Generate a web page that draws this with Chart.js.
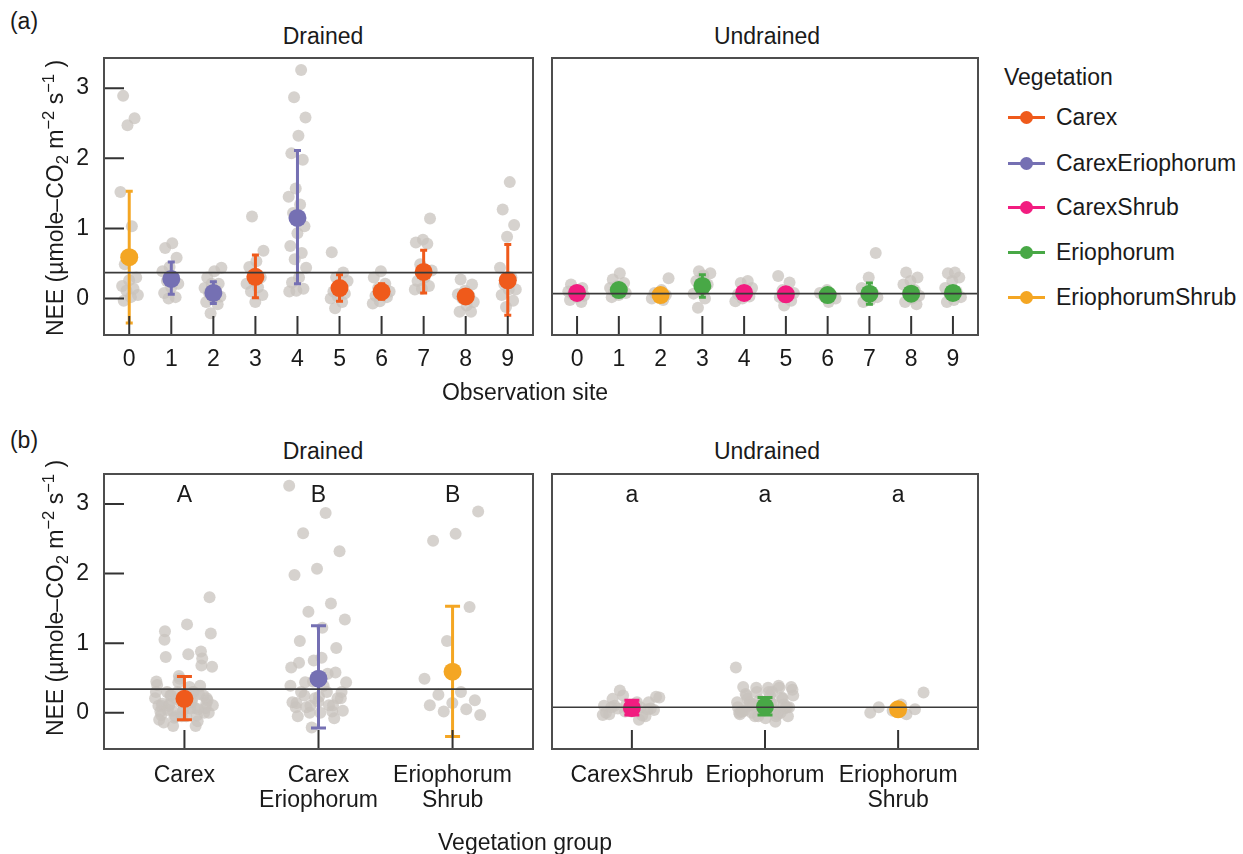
<!DOCTYPE html>
<html>
<head>
<meta charset="utf-8">
<script src="https://cdn.jsdelivr.net/npm/chart.js@4.4.1/dist/chart.umd.min.js"></script>
<style>
  html, body { margin: 0; padding: 0; background: #fff; }
  body { width: 1243px; height: 854px; position: relative; overflow: hidden;
         font-family: "Liberation Sans", Arial, sans-serif; color: #1a1a1a; }
  canvas { position: absolute; }
  .t { position: absolute; font-size: 23px; line-height: 1; white-space: nowrap; }
  .c { transform: translate(-50%, -50%); }
  .ytitle { position: absolute; font-size: 23px; line-height: 1; white-space: nowrap;
            transform: translate(-50%, -50%) rotate(-90deg); }
  .ytitle sub, .ytitle sup { font-size: 72%; line-height: 0; }
  .leg { position: absolute; left: 1008px; width: 220px; height: 30px; }
  .leg .ln { position: absolute; left: 0; top: 13.5px; width: 37px; height: 3px; }
  .leg .dt { position: absolute; left: 12px; top: 8.5px; width: 13px; height: 13px; border-radius: 50%; }
  .leg .lb { position: absolute; left: 48px; top: 4px; font-size: 23px; line-height: 1; white-space: nowrap; }
</style>
</head>
<body>
<canvas id="aDrained" width="542" height="336" style="left:0px;top:49px"></canvas>
<canvas id="aUndrained" width="444" height="336" style="left:543px;top:49px"></canvas>
<canvas id="bDrained" width="542" height="364" style="left:0px;top:465px"></canvas>
<canvas id="bUndrained" width="444" height="364" style="left:543px;top:465px"></canvas>

<div class="t c" style="left:24px;top:21px">(a)</div>
<div class="t c" style="left:24px;top:440px">(b)</div>

<div class="t c" style="left:323px;top:36px">Drained</div>
<div class="t c" style="left:767px;top:36px">Undrained</div>
<div class="t c" style="left:323px;top:451px">Drained</div>
<div class="t c" style="left:767px;top:451px">Undrained</div>

<div class="ytitle" style="left:55px;top:198px">NEE (µmole–CO<sub>2</sub> m<sup>−2</sup> s<sup>−1</sup> )</div>
<div class="ytitle" style="left:55px;top:598px">NEE (µmole–CO<sub>2</sub> m<sup>−2</sup> s<sup>−1</sup> )</div>

<div class="t c" style="left:525px;top:392px">Observation site</div>
<div class="t c" style="left:525px;top:842px">Vegetation group</div>

<div class="t" style="left:1004px;top:66px">Vegetation</div>
<div id="legend"></div>

<script>
// ---- vegetation classes and colours ----
const vegetation = ['Carex', 'CarexEriophorum', 'CarexShrub', 'Eriophorum', 'EriophorumShrub'];
const vegColors  = ['#EF5A1B', '#7570B3', '#F21C80', '#48A846', '#F4A623'];

// ---- observation sites ----
const sites = [0, 1, 2, 3, 4, 5, 6, 7, 8, 9];
const siteLabels = ['0', '1', '2', '3', '4', '5', '6', '7', '8', '9'];
const drainedSiteVeg = ['EriophorumShrub', 'CarexEriophorum', 'CarexEriophorum', 'Carex', 'CarexEriophorum',
                        'Carex', 'Carex', 'Carex', 'Carex', 'Carex'];
const undrainedSiteVeg = ['CarexShrub', 'Eriophorum', 'EriophorumShrub', 'Eriophorum', 'CarexShrub',
                          'CarexShrub', 'Eriophorum', 'Eriophorum', 'Eriophorum', 'Eriophorum'];

// ---- individual NEE measurements per site ----
const drainedNEE = [
  [2.89, 2.57, 2.47, 1.52, 1.03, 0.49, 0.30, 0.26, 0.18, 0.14, 0.11, 0.05, 0.02, -0.03],
  [0.79, 0.72, 0.58, 0.45, 0.39, 0.30, 0.25, 0.21, 0.16, 0.08, 0.02, 0.00],
  [0.44, 0.39, 0.30, 0.21, 0.21, 0.15, 0.11, 0.08, 0.03, 0.00, -0.05, -0.08, -0.21],
  [1.17, 0.68, 0.53, 0.45, 0.30, 0.25, 0.21, 0.16, 0.10, 0.05, -0.05],
  [3.26, 2.87, 2.58, 2.32, 2.07, 1.98, 1.57, 1.45, 1.34, 1.22, 1.03, 0.93, 0.75, 0.65, 0.56, 0.44, 0.30, 0.23, 0.14, 0.11, 0.10],
  [0.66, 0.37, 0.30, 0.25, 0.15, 0.10, 0.07, 0.03, 0.00, -0.05, -0.14],
  [0.39, 0.30, 0.21, 0.15, 0.10, 0.07, 0.04, 0.02, -0.04, -0.07],
  [1.14, 0.84, 0.80, 0.78, 0.49, 0.40, 0.30, 0.25, 0.18, 0.14, 0.13],
  [0.27, 0.20, 0.11, 0.06, 0.04, 0.00, -0.05, -0.10, -0.19, -0.19],
  [1.66, 1.27, 1.05, 0.88, 0.44, 0.30, 0.20, 0.13, 0.13, 0.05, -0.03, -0.12]
];
const undrainedNEE = [
  [0.20, 0.15, 0.12, 0.10, 0.08, 0.06, 0.04, 0.02, -0.02, -0.05],
  [0.36, 0.27, 0.22, 0.18, 0.15, 0.12, 0.10, 0.08, 0.05, 0.02],
  [0.29, 0.12, 0.08, 0.05, 0.03, 0.00, -0.02],
  [0.39, 0.36, 0.33, 0.25, 0.20, 0.12, 0.07, 0.00, -0.13],
  [0.25, 0.22, 0.15, 0.10, 0.06, 0.03, 0.00, -0.04],
  [0.32, 0.23, 0.12, 0.08, 0.05, 0.02, -0.03, -0.10],
  [0.12, 0.08, 0.05, 0.03, 0.00, -0.05],
  [0.65, 0.30, 0.15, 0.08, 0.05, 0.02, -0.02, -0.05],
  [0.37, 0.30, 0.25, 0.20, 0.12, 0.08, 0.04, 0.00, -0.05, -0.08],
  [0.37, 0.36, 0.30, 0.25, 0.15, 0.10, 0.06, 0.02, -0.02, -0.05]
];

// ---- site means with error-bar limits ----
const drainedSiteMean = [0.59, 0.28, 0.08, 0.31, 1.15, 0.15, 0.10, 0.38, 0.03, 0.26];
const drainedSiteLo   = [-0.35, 0.06, -0.07, 0.01, 0.21, -0.04, -0.01, 0.08, -0.05, -0.24];
const drainedSiteHi   = [1.53, 0.52, 0.24, 0.62, 2.11, 0.34, 0.21, 0.69, 0.11, 0.77];
const undrainedSiteMean = [0.08, 0.12, 0.05, 0.18, 0.08, 0.06, 0.05, 0.07, 0.07, 0.08];
const undrainedSiteLo   = [0.03, 0.07, 0.00, 0.02, 0.03, 0.01, 0.00, -0.08, 0.02, 0.03];
const undrainedSiteHi   = [0.13, 0.17, 0.10, 0.34, 0.13, 0.11, 0.10, 0.22, 0.12, 0.13];

// ---- vegetation groups ----
const drainedGroups = ['Carex', 'CarexEriophorum', 'EriophorumShrub'];
const undrainedGroups = ['CarexShrub', 'Eriophorum', 'EriophorumShrub'];
const drainedGroupLabels = [['Carex'], ['Carex', 'Eriophorum'], ['Eriophorum', 'Shrub']];
const undrainedGroupLabels = [['CarexShrub'], ['Eriophorum'], ['Eriophorum', 'Shrub']];
const drainedGroupMean = [0.20, 0.49, 0.59];
const drainedGroupLo   = [-0.10, -0.22, -0.34];
const drainedGroupHi   = [0.52, 1.25, 1.53];
const undrainedGroupMean = [0.07, 0.09, 0.05];
const undrainedGroupLo   = [-0.03, -0.03, 0.00];
const undrainedGroupHi   = [0.18, 0.22, 0.10];
const drainedLetters = ['A', 'B', 'B'];
const undrainedLetters = ['a', 'a', 'a'];

// ---- reference levels and y axis ----
const drainedRefA = 0.37, undrainedRefA = 0.07;
const drainedRefB = 0.34, undrainedRefB = 0.08;
const letterLevel = 3.12;
const yTicks = [0, 1, 2, 3];
const yMin = -0.52, yMax = 3.43;

// ---------------------------------------------------------------
const FONT = '"Liberation Sans", Arial, sans-serif';
const colorOf = v => vegColors[vegetation.indexOf(v)];

// spread points sideways around their category (deterministic sequence)
function spread(valuesPerCat, cats) {
  const pts = [];
  valuesPerCat.forEach((vals, c) => {
    vals.forEach((v, i) => {
      const f = ((i * 0.6180339887 + c * 0.3819660113 + 0.17) % 1);
      pts.push({ x: cats[c] + (f - 0.5) * 0.44, y: v });
    });
  });
  return pts;
}

function groupValues(groups, siteVeg, perSite) {
  return groups.map(g => perSite.filter((_, s) => siteVeg[s] === g).flat());
}

function makeDecor(p) {
  return {
    id: 'decor',
    beforeDatasetDraw(chart, args) {
      if (args.index !== 1) return;
      const { ctx, scales: { x, y } } = chart;
      ctx.save();
      ctx.lineWidth = 3;
      p.means.forEach((m, i) => {
        const px = x.getPixelForValue(p.cats[i]);
        const yl = y.getPixelForValue(p.lo[i]);
        const yh = y.getPixelForValue(p.hi[i]);
        ctx.strokeStyle = p.colors[i];
        ctx.beginPath();
        ctx.moveTo(px, yl); ctx.lineTo(px, yh);
        ctx.moveTo(px - p.cap, yl); ctx.lineTo(px + p.cap, yl);
        ctx.moveTo(px - p.cap, yh); ctx.lineTo(px + p.cap, yh);
        ctx.stroke();
      });
      ctx.restore();
    },
    afterDatasetsDraw(chart) {
      const { ctx, chartArea: a, scales: { x, y } } = chart;
      ctx.save();
      // reference level
      const ry = y.getPixelForValue(p.ref);
      ctx.strokeStyle = '#3a3a3a';
      ctx.lineWidth = 1.6;
      ctx.beginPath(); ctx.moveTo(a.left, ry); ctx.lineTo(a.right, ry); ctx.stroke();
      // inward tick marks
      ctx.strokeStyle = '#333';
      ctx.lineWidth = 2;
      ctx.beginPath();
      p.cats.forEach(c => {
        const px = x.getPixelForValue(c);
        ctx.moveTo(px, a.bottom); ctx.lineTo(px, a.bottom - 19);
      });
      if (p.showY) {
        yTicks.forEach(v => {
          const py = y.getPixelForValue(v);
          ctx.moveTo(a.left, py); ctx.lineTo(a.left + 20, py);
        });
      }
      ctx.stroke();
      // panel frame
      ctx.strokeStyle = '#4d4d4d';
      ctx.lineWidth = 2;
      ctx.strokeRect(a.left, a.top, a.right - a.left, a.bottom - a.top);
      // significance letters
      if (p.letters) {
        ctx.fillStyle = '#1a1a1a';
        ctx.font = '23px ' + FONT;
        ctx.textAlign = 'center';
        ctx.textBaseline = 'middle';
        p.letters.forEach((L, i) => {
          ctx.fillText(L, x.getPixelForValue(p.cats[i]), y.getPixelForValue(letterLevel));
        });
      }
      ctx.restore();
    }
  };
}

function panel(id, p) {
  const meanPts = p.means.map((m, i) => ({ x: p.cats[i], y: m }));
  return new Chart(document.getElementById(id), {
    type: 'scatter',
    data: {
      datasets: [
        { data: p.points, order: 2, pointRadius: 6, pointHoverRadius: 6,
          pointBackgroundColor: 'rgba(200,195,190,0.75)', pointBorderWidth: 0 },
        { data: meanPts, order: 1, pointRadius: p.dot, pointHoverRadius: p.dot,
          pointBackgroundColor: p.colors, pointBorderWidth: 0 }
      ]
    },
    options: {
      responsive: false, animation: false, events: [],
      layout: { padding: { top: 4, right: 4, left: p.showY ? 0 : 4, bottom: 0 } },
      plugins: { legend: { display: false }, tooltip: { enabled: false } },
      scales: {
        x: {
          type: 'linear', min: -0.6, max: p.cats.length - 0.4,
          grid: { display: false, drawTicks: false }, border: { display: false },
          afterBuildTicks: s => { s.ticks = p.cats.map(v => ({ value: v })); },
          afterFit: s => { s.height = p.axisH; s.paddingLeft = 0; s.paddingRight = 0; },
          ticks: { color: '#1a1a1a', font: { family: FONT, size: 23, lineHeight: 1.1 },
                   padding: p.xPad, maxRotation: 0, autoSkip: false,
                   callback: (v, i) => p.labels[i] }
        },
        y: {
          type: 'linear', min: yMin, max: yMax, display: p.showY,
          grid: { display: false, drawTicks: false }, border: { display: false },
          afterBuildTicks: s => { s.ticks = yTicks.map(v => ({ value: v })); },
          afterFit: s => { s.width = p.showY ? 104 : 0; s.paddingTop = 0; s.paddingBottom = 0; },
          ticks: { color: '#1a1a1a', font: { family: FONT, size: 23 }, padding: 15,
                   callback: v => String(v) }
        }
      }
    },
    plugins: [makeDecor(p)]
  });
}

// (a) by observation site
panel('aDrained', {
  cats: sites, labels: siteLabels, showY: true, axisH: 50, xPad: 12, dot: 9, cap: 3.5,
  points: spread(drainedNEE, sites),
  means: drainedSiteMean, lo: drainedSiteLo, hi: drainedSiteHi,
  colors: drainedSiteVeg.map(colorOf), ref: drainedRefA
});
panel('aUndrained', {
  cats: sites, labels: siteLabels, showY: false, axisH: 50, xPad: 12, dot: 9, cap: 3.5,
  points: spread(undrainedNEE, sites),
  means: undrainedSiteMean, lo: undrainedSiteLo, hi: undrainedSiteHi,
  colors: undrainedSiteVeg.map(colorOf), ref: undrainedRefA
});

// (b) by vegetation group
const gCats = [0, 1, 2];
panel('bDrained', {
  cats: gCats, labels: drainedGroupLabels, showY: true, axisH: 80, xPad: 14, dot: 9, cap: 7.5,
  points: spread(groupValues(drainedGroups, drainedSiteVeg, drainedNEE), gCats),
  means: drainedGroupMean, lo: drainedGroupLo, hi: drainedGroupHi,
  colors: drainedGroups.map(colorOf), ref: drainedRefB, letters: drainedLetters
});
panel('bUndrained', {
  cats: gCats, labels: undrainedGroupLabels, showY: false, axisH: 80, xPad: 14, dot: 9, cap: 7.5,
  points: spread(groupValues(undrainedGroups, undrainedSiteVeg, undrainedNEE), gCats),
  means: undrainedGroupMean, lo: undrainedGroupLo, hi: undrainedGroupHi,
  colors: undrainedGroups.map(colorOf), ref: undrainedRefB, letters: undrainedLetters
});

// legend
const legendRows = [117, 163, 207, 252, 297];
const legend = document.getElementById('legend');
vegetation.forEach((v, i) => {
  const row = document.createElement('div');
  row.className = 'leg';
  row.style.top = (legendRows[i] - 15) + 'px';
  row.innerHTML = '<span class="ln" style="background:' + vegColors[i] + '"></span>' +
                  '<span class="dt" style="background:' + vegColors[i] + '"></span>' +
                  '<span class="lb">' + v + '</span>';
  legend.appendChild(row);
});
</script>
</body>
</html>
